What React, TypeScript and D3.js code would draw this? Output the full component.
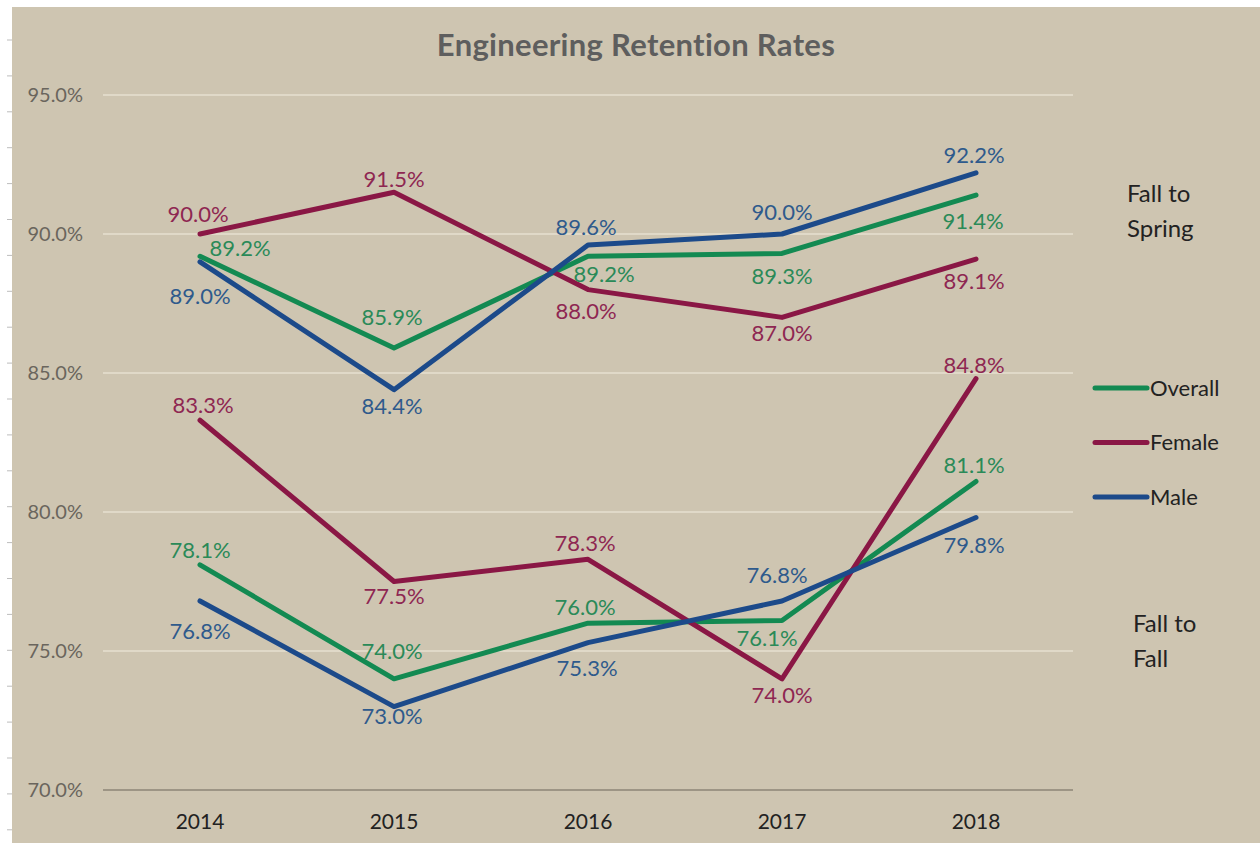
import React from 'react';
import * as d3 from 'd3';

const years = ['2014', '2015', '2016', '2017', '2018'];
const yTickValues = [70, 75, 80, 85, 90, 95];

// Fall to Spring
const springOverall = [89.2, 85.9, 89.2, 89.3, 91.4];
const springFemale = [90.0, 91.5, 88.0, 87.0, 89.1];
const springMale = [89.0, 84.4, 89.6, 90.0, 92.2];

// Fall to Fall
const fallOverall = [78.1, 74.0, 76.0, 76.1, 81.1];
const fallFemale = [83.3, 77.5, 78.3, 74.0, 84.8];
const fallMale = [76.8, 73.0, 75.3, 76.8, 79.8];

const legendNames = ['Overall', 'Female', 'Male'];

// layout: label offsets (px) from each point
const springOverallLabelPos = [[40, -8], [-2, -31], [16, 18], [0, 23], [-3, 26]];
const springFemaleLabelPos = [[-2, -20], [0, -13], [-2, 22], [0, 16], [-2, 22]];
const springMaleLabelPos = [[0, 34], [-2, 17], [-2, -18], [0, -22], [-2, -18]];
const fallOverallLabelPos = [[0, -15], [-2, -28], [-3, -16], [-15, 18], [-2, -16]];
const fallFemaleLabelPos = [[3, -15], [0, 15], [-3, -16], [0, 16], [-2, -13]];
const fallMaleLabelPos = [[0, 30], [-2, 10], [-1, 26], [-5, -26], [-2, 28]];

const COLORS = {
  Overall: { line: '#138A52', text: '#2A8A58' },
  Female: { line: '#8A1745', text: '#8E2752' },
  Male: { line: '#1C4A8A', text: '#2E5A8C' },
};

const FONT = 'Lato, "Open Sans", sans-serif';

export default function App() {
  const W = 1260;
  const H = 843;
  const x = d3.scalePoint<string>().domain(years).range([103, 1073]).padding(0.5);
  const y = d3.scaleLinear().domain([70, 95]).range([790, 95]);

  const line = d3
    .line<number>()
    .x((_, i) => x(years[i]) as number)
    .y((d) => y(d));

  const series = [
    { key: 'Overall', values: springOverall, pos: springOverallLabelPos },
    { key: 'Female', values: springFemale, pos: springFemaleLabelPos },
    { key: 'Male', values: springMale, pos: springMaleLabelPos },
    { key: 'Overall', values: fallOverall, pos: fallOverallLabelPos },
    { key: 'Female', values: fallFemale, pos: fallFemaleLabelPos },
    { key: 'Male', values: fallMale, pos: fallMaleLabelPos },
  ];

  const rulerTicks = d3.range(40, H, 35.9);

  return (
    <svg
      width={W}
      height={H}
      style={{ position: 'absolute', left: 0, top: 0, display: 'block' }}
      fontFamily={FONT}
    >
      <rect x={0} y={0} width={W} height={H} fill="#ffffff" />
      <rect x={12} y={7} width={W - 12} height={H - 7} fill="#CEC5B1" />
      {rulerTicks.map((t, i) => (
        <line key={'r' + i} x1={7} x2={12} y1={t} y2={t} stroke="#bdbdbd" strokeWidth={1} />
      ))}

      {/* title */}
      <text x={636} y={56} textAnchor="middle" fontSize={31} fontWeight={700} letterSpacing={0.3} fill="#5E5E5E">
        Engineering Retention Rates
      </text>

      {/* gridlines */}
      {yTickValues.map((v) => (
        <line
          key={'g' + v}
          x1={103}
          x2={1073}
          y1={y(v)}
          y2={y(v)}
          stroke={v === 70 ? '#8C8577' : '#E6DFD0'}
          strokeWidth={1.3}
        />
      ))}

      {/* y tick labels */}
      {yTickValues.map((v) => (
        <text
          key={'yt' + v}
          x={83}
          y={y(v)}
          dy="0.35em"
          textAnchor="end"
          fontSize={20}
          fill="#6A655D"
        >
          {v.toFixed(1) + '%'}
        </text>
      ))}

      {/* x tick labels */}
      {years.map((yr) => (
        <text key={'x' + yr} x={x(yr)} y={829} textAnchor="middle" fontSize={21} fill="#222">
          {yr}
        </text>
      ))}

      {/* lines */}
      {series.map((s, i) => (
        <path
          key={'l' + i}
          d={line(s.values) || ''}
          fill="none"
          stroke={COLORS[s.key].line}
          strokeWidth={5}
          strokeLinejoin="round"
          strokeLinecap="round"
        />
      ))}

      {/* data labels */}
      {series.map((s, i) =>
        s.values.map((v, j) => (
          <text
            key={'t' + i + '-' + j}
            x={(x(years[j]) as number) + s.pos[j][0]}
            y={y(v) + s.pos[j][1]}
            dy="0.35em"
            textAnchor="middle"
            fontSize={22}
            fill={COLORS[s.key].text}
          >
            {v.toFixed(1) + '%'}
          </text>
        ))
      )}

      {/* section annotations */}
      <text x={1127} y={202} fontSize={24} fill="#222">Fall to</text>
      <text x={1127} y={237} fontSize={24} fill="#222">Spring</text>
      <text x={1133} y={632} fontSize={24} fill="#222">Fall to</text>
      <text x={1133} y={667} fontSize={24} fill="#222">Fall</text>

      {/* legend */}
      {legendNames.map((n, i) => (
        <g key={'lg' + n} transform={`translate(1095, ${388 + i * 54.5})`}>
          <line x1={0} x2={52} y1={0} y2={0} stroke={COLORS[n].line} strokeWidth={5} strokeLinecap="round" />
          <text x={55} y={0} dy="0.35em" fontSize={22} fill="#222">
            {n}
          </text>
        </g>
      ))}
    </svg>
  );
}
